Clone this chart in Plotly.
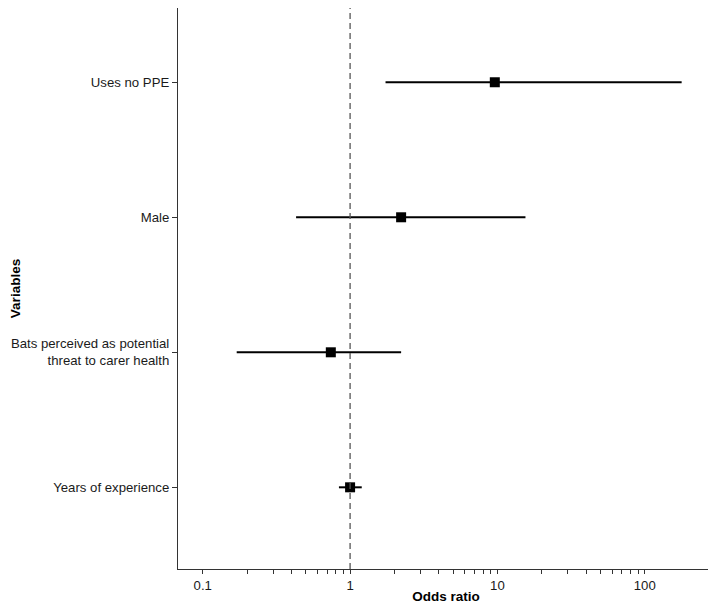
import plotly.graph_objects as go

variables = ["Years of experience",
             "Bats perceived as potential<br>threat to carer health",
             "Male",
             "Uses no PPE"]
odds_ratio = [1.00, 0.74, 2.22, 9.6]
ci_low = [0.84, 0.17, 0.43, 1.74]
ci_high = [1.20, 2.22, 15.5, 178]

x_tickvals = [0.1, 1, 10, 100]
x_ticktext = ["0.1", "1", "10", "100"]
x_minor_vals = [0.2, 0.3, 0.4, 0.5, 0.6, 0.7, 0.8, 0.9,
                2, 3, 4, 5, 6, 7, 8, 9,
                20, 30, 40, 50, 60, 70, 80, 90]

ypos = list(range(1, len(variables) + 1))

fig = go.Figure()
fig.add_trace(go.Scatter(
    x=odds_ratio, y=ypos, mode="markers",
    marker=dict(symbol="square", size=10, color="black"),
    error_x=dict(type="data", symmetric=False,
                 array=[h - o for h, o in zip(ci_high, odds_ratio)],
                 arrayminus=[o - l for o, l in zip(odds_ratio, ci_low)],
                 color="black", thickness=2, width=0),
    showlegend=False, hoverinfo="x+y"))

fig.add_shape(type="line", xref="x", yref="paper", x0=1, x1=1, y0=0, y1=1,
              line=dict(color="#555555", width=1.3, dash="6px,4px"), layer="above")

axis_font = dict(family="Liberation Sans, Arial, sans-serif", size=13.2, color="#1a1a1a")
fig.update_layout(
    width=708, height=596,
    margin=dict(l=170, r=2, t=0, b=35, autoexpand=False),
    plot_bgcolor="white", paper_bgcolor="white",
    font=axis_font,
    xaxis=dict(type="log", range=[-1.168, 2.47],
               tickvals=x_tickvals, ticktext=x_ticktext,
               ticks="outside", ticklen=4, tickcolor="#333333", tickwidth=1,
               minor=dict(ticks="outside", ticklen=4, tickcolor="#333333",
                          tickvals=x_minor_vals, showgrid=False),
               showline=True, linecolor="#333333", linewidth=1.2, mirror=False,
               showgrid=False, zeroline=False,
               title=dict(text="<b>Odds ratio</b>", standoff=0, font=dict(size=13.5, color="black")),
               tickfont=axis_font),
    yaxis=dict(range=[0.395, 4.55], tickvals=ypos, ticktext=variables,
               ticks="outside", ticklen=5, tickcolor="#333333",
               showline=True, linecolor="#333333", linewidth=1.2,
               showgrid=False, zeroline=False,
               title=dict(text="<b>Variables</b>", standoff=6, font=dict(size=13.5, color="black")),
               tickfont=axis_font),
)

fig.write_html("out.html")
